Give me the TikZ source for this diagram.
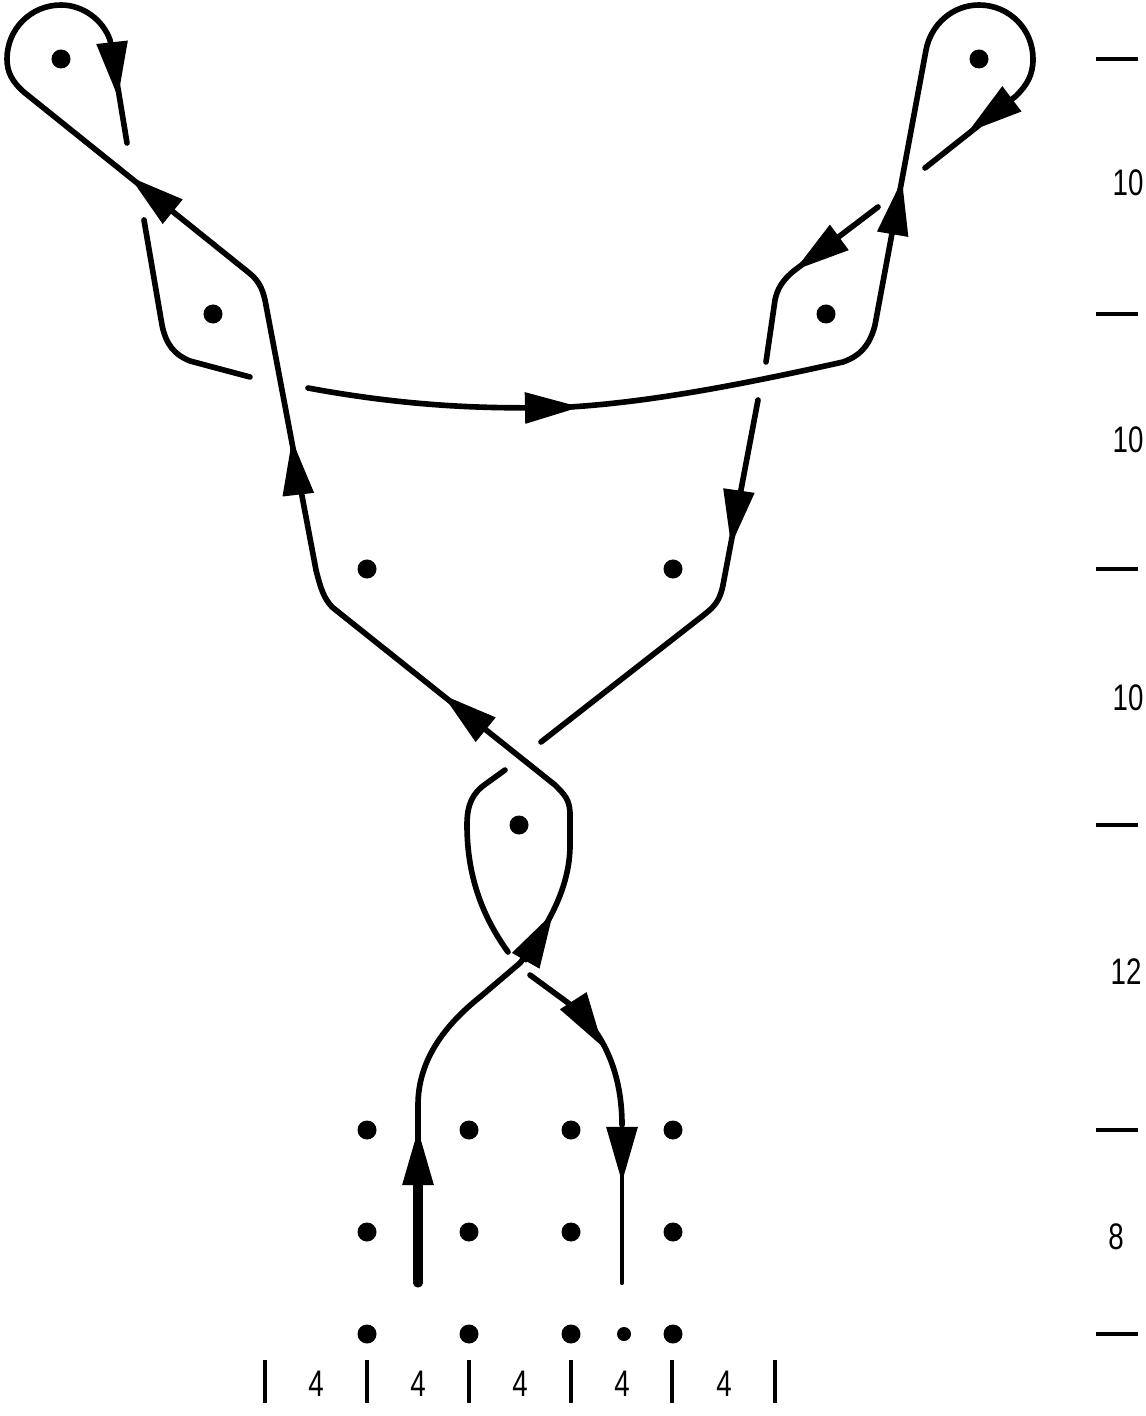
\documentclass[tikz,border=0pt]{standalone}
\usepackage{fontspec}
\setmainfont{Liberation Sans}
\usetikzlibrary{arrows.meta}
\tikzstyle{strand} = [line width=1.6pt, line cap=round, line join=round]
\tikzstyle{thinstrand} = [line width=1.2pt, line cap=round, line join=round]
\tikzstyle{head} = [line width=0.8pt, -{Triangle[length=0.55cm,width=0.31cm]}]
\tikzstyle{pin} = [circle, fill=black, inner sep=0pt, minimum size=0.19cm]
\tikzstyle{tick} = [line width=0.9pt]
\tikzstyle{dim} = [xscale=0.75, font=\fontsize{10.5pt}{12pt}\selectfont]

\begin{document}
\begin{tikzpicture}[x=0.01cm,y=-0.01cm]
    \useasboundingbox (0,0) rectangle (1145,1416);
    \foreach \x/\y/\n in {61/59/a,979/59/b,213/314/c,826/314/d,367/569/e,673/569/f,519/825/g} \node[pin] (pin\n) at (\x,\y) {};
    \foreach \x/\n in {367/1,469/2,571/3,673/4} {
        \node[pin] (top\n) at (\x,1130) {};
        \node[pin] (mid\n) at (\x,1232) {};
        \node[pin] (low\n) at (\x,1334) {};
    }
    \node[pin, minimum size=0.14cm] (lowx) at (624,1334) {};
    \draw[line width=2.6pt, line cap=round] (418,1283) -- (418,1150);
    \draw[strand] (418,1150) -- (418,1105) .. controls (418,1060) and (445,1025) .. (480,997) -- (520,963) .. controls (545,930) and (570,890) .. (570,845) -- (570,815) .. controls (570,800) and (565,795) .. (555,785) -- (332,607) .. controls (324,598) and (321,590) .. (316,570) -- (265,300) .. controls (262,287) and (258,280) .. (248,272) -- (25,93) .. controls (12,82) and (7,72) .. (7,59) .. controls (7,29) and (31,5) .. (61,5) .. controls (83,5) and (103,20) .. (110,40) -- (127,143);
    \draw[strand] (144,220) -- (162,325) .. controls (166,345) and (175,355) .. (190,361) -- (250,377);
    \draw[strand] (308,388) .. controls (400,405) and (480,410) .. (570,407) .. controls (650,402) and (740,385) .. (843,362) .. controls (860,356) and (870,345) .. (875,325) -- (926,50) .. controls (931,24) and (953,5) .. (979,5) .. controls (1009,5) and (1033,29) .. (1033,59) .. controls (1033,75) and (1027,85) .. (1016,96) -- (925,168);
    \draw[strand] (878,207) -- (795,270) .. controls (782,280) and (777,290) .. (775,300) -- (766,362);
    \draw[strand] (758,400) -- (723,585) .. controls (720,600) and (715,606) .. (705,614) -- (541,742);
    \draw[strand] (505,770) -- (487,783) .. controls (472,793) and (467,805) .. (467,825) .. controls (467,880) and (485,920) .. (508,952);
    \draw[strand] (530,975) -- (575,1008) .. controls (605,1035) and (622,1075) .. (622,1125);
    \draw[thinstrand] (622,1125) -- (622,1283);
    \foreach \ax/\ay/\bx/\by in {418/1183/418/1130,622/1128/622/1182,525/962/553/913,576/1005/603/1047,486/730/443/695,298/492/292/440,739/490/731/545,525/408/580/407,178/216/130/177,112/42/118/97,1009/101/968/132,892/238/902/180,833/242/795/270}
        \draw[head] (\ax,\ay) -- (\bx,\by);
    \foreach \y/\n in {59/a,314/b,569/c,825/d,1130/e,1334/f} \draw[tick] (1096,\y) -- (1138,\y);
    \foreach \x in {265,367,469,571,672,775} \draw[tick] (\x,1360) -- (\x,1403);
    \foreach \x in {316,418,520,622,724} \node[dim] at (\x,1384) {4};
    \foreach \y in {183,440,698} \node[dim] at (1128,\y) {10};
    \node[dim] at (1126,972) {12};
    \node[dim] at (1116,1237) {8};
\end{tikzpicture}
\end{document}
